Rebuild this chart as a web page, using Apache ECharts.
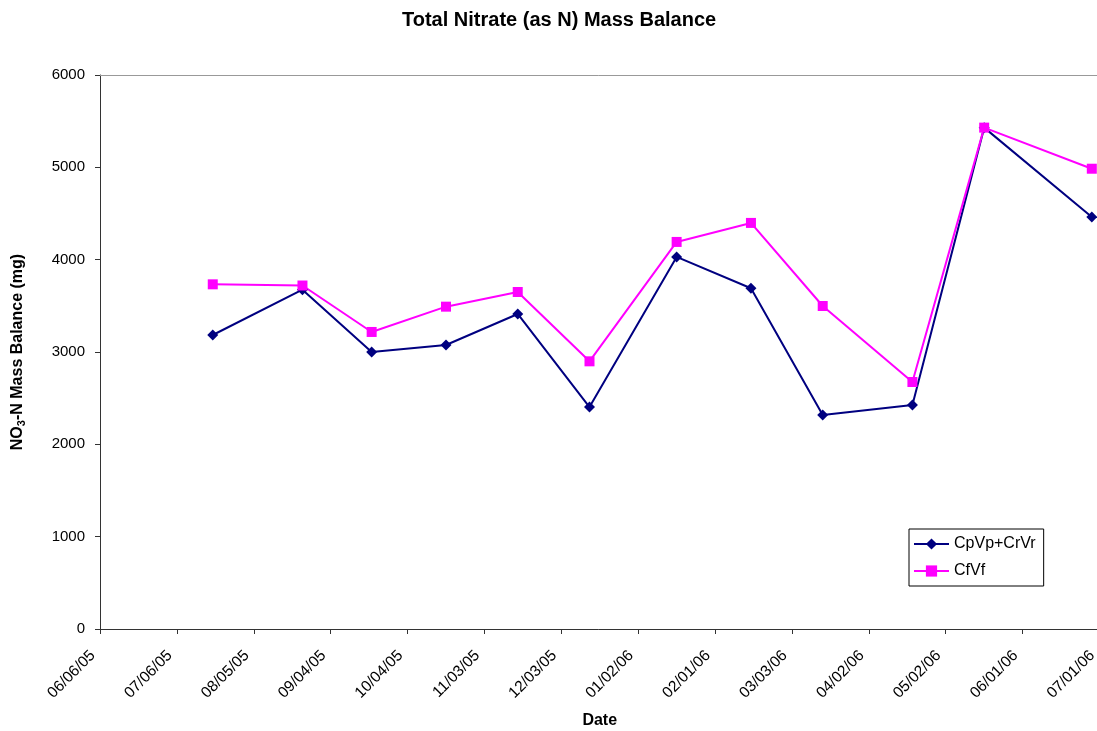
<!DOCTYPE html>
<html>
<head>
<meta charset="utf-8">
<script src="https://cdn.jsdelivr.net/npm/echarts@6/dist/echarts.min.js"></script>
<style>
html,body{margin:0;padding:0;background:#fff;}
#chart{width:1097px;height:731px;}
</style>
</head>
<body>
<div id="chart"></div>
<script>
// ---- data ----
var startDate = '2005-06-06';
var sampleDates = ['2005-07-20','2005-08-24','2005-09-20','2005-10-19','2005-11-16','2005-12-14',
                   '2006-01-17','2006-02-15','2006-03-15','2006-04-19','2006-05-17','2006-06-28'];
var cpvpCrvr = [3184, 3675, 3000, 3076, 3412, 2404, 4030, 3690, 2318, 2426, 5430, 4462];
var cfvf     = [3733, 3720, 3217, 3491, 3650, 2899, 4192, 4398, 3498, 2675, 5430, 4985];
var yTicks = [0, 1000, 2000, 3000, 4000, 5000, 6000];
var seriesNames = ['CpVp+CrVr', 'CfVf'];

var DAY = 86400000;
var base = Date.parse(startDate);
function toDay(s){ return Math.round((Date.parse(s) - base) / DAY); }
function pad(n){ return (n < 10 ? '0' : '') + n; }
function fmt(v){
  var d = new Date(base + v * DAY);
  return pad(d.getUTCMonth() + 1) + '/' + pad(d.getUTCDate()) + '/' + pad(d.getUTCFullYear() % 100);
}
var xs = sampleDates.map(toDay);
function pairs(vals){ return vals.map(function(v, i){ return [xs[i], v]; }); }

var FONT = 'Liberation Sans, Arial, sans-serif';
var chart = echarts.init(document.getElementById('chart'), null, {renderer: 'canvas'});
chart.setOption({
  animation: false,
  backgroundColor: '#fff',
  textStyle: {fontFamily: FONT},
  title: {
    text: 'Total Nitrate (as N) Mass Balance',
    left: 397, top: 5,
    textStyle: {fontFamily: FONT, fontSize: 20, fontWeight: 'bold', color: '#000'}
  },
  grid: {left: 100, top: 75, right: -2.5, bottom: 102, containLabel: false, outerBoundsMode: 'none'},
  legend: {
    orient: 'vertical',
    left: 909, top: 529,
    data: seriesNames,
    itemWidth: 35, itemHeight: 14, itemGap: 11,
    padding: [7, 8, 7, 4],
    borderColor: '#000', borderWidth: 1, backgroundColor: '#fff',
    textStyle: {fontFamily: FONT, fontSize: 16, color: '#000', lineHeight: 14}
  },
  xAxis: [{
    type: 'value', min: 0, max: 390, interval: 30,
    name: 'Date', nameLocation: 'middle', nameGap: 84,
    nameTextStyle: {fontFamily: FONT, fontSize: 16, fontWeight: 'bold', color: '#000'},
    axisLine: {lineStyle: {color: '#333', width: 1}},
    axisTick: {show: true, length: 5, lineStyle: {color: '#333'}},
    splitLine: {show: false},
    axisLabel: {rotate: 45, margin: 17, padding: [0, 10, 0, 0], fontFamily: FONT, fontSize: 15.5, color: '#000',
      formatter: function(v){ return fmt(v); }}
  }, {
    type: 'value', min: 0, max: 390, position: 'top',
    axisLine: {show: true, lineStyle: {color: '#999', width: 1}},
    axisTick: {show: false}, axisLabel: {show: false}, splitLine: {show: false}
  }],
  yAxis: {
    type: 'value', min: yTicks[0], max: yTicks[yTicks.length - 1], interval: 1000,
    name: '{b|NO}{s|3}{b|-N Mass Balance (mg)}',
    nameLocation: 'middle', nameGap: 73,
    nameTextStyle: {fontFamily: FONT, fontSize: 16, fontWeight: 'bold', color: '#000',
      rich: {
        b: {fontFamily: FONT, fontSize: 16, fontWeight: 'bold', color: '#000'},
        s: {fontFamily: FONT, fontSize: 11, fontWeight: 'bold', color: '#000', verticalAlign: 'bottom', padding: [8, 0, 0, 0]}
      }},
    axisLine: {show: true, lineStyle: {color: '#333', width: 1}},
    axisTick: {show: true, length: 5, lineStyle: {color: '#333'}},
    splitLine: {show: false},
    axisLabel: {margin: 15, fontFamily: FONT, fontSize: 15, color: '#000',
      formatter: function(v){ return String(v); }}
  },
  series: [{
    name: seriesNames[0], type: 'line', xAxisIndex: 0,
    data: pairs(cpvpCrvr),
    symbol: 'diamond', symbolSize: 11,
    lineStyle: {color: '#000080', width: 2},
    itemStyle: {color: '#000080'}
  }, {
    name: seriesNames[1], type: 'line', xAxisIndex: 0,
    data: pairs(cfvf),
    symbol: 'rect', symbolSize: 10,
    lineStyle: {color: '#FF00FF', width: 2},
    itemStyle: {color: '#FF00FF'}
  }]
});
</script>
</body>
</html>
